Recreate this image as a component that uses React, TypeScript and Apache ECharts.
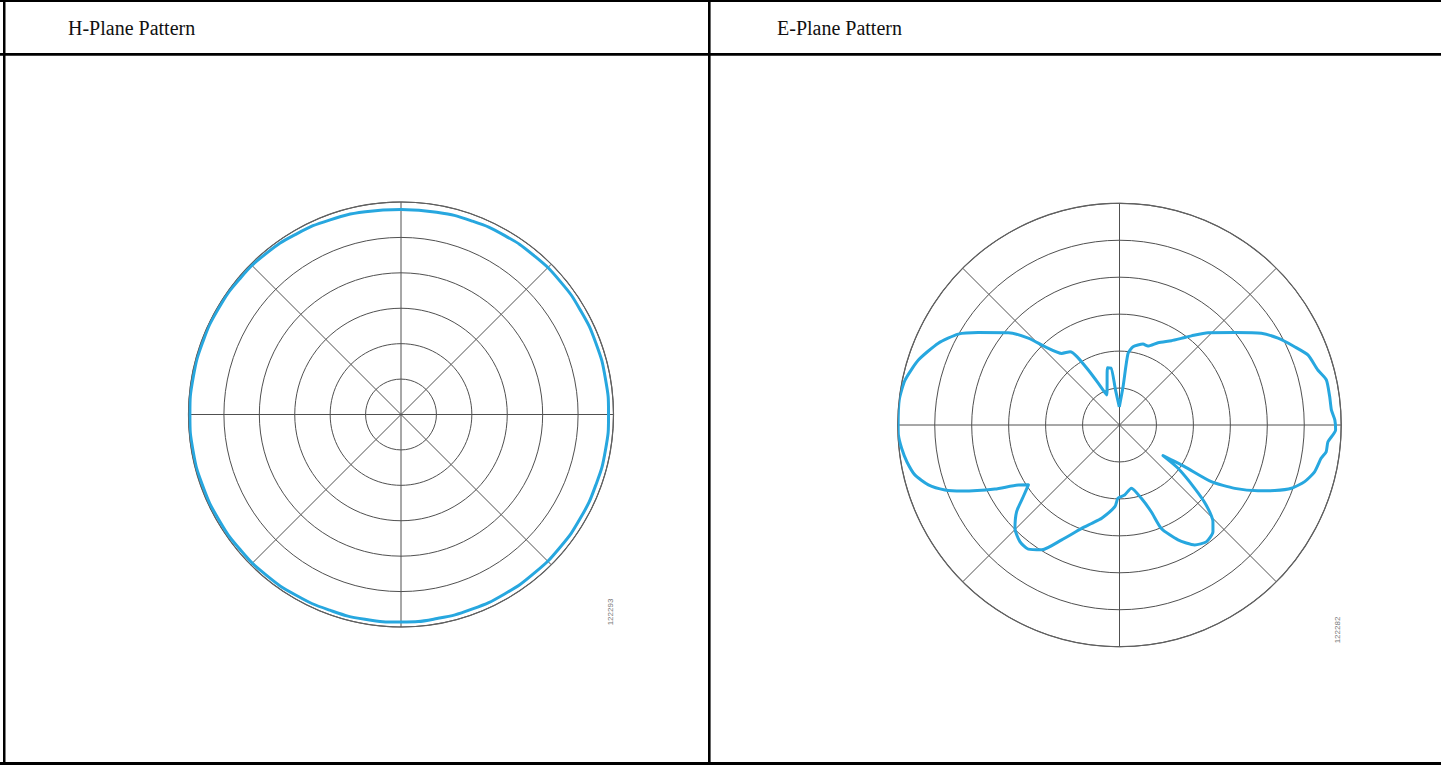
import React, { useEffect, useRef } from "react";
import * as echarts from "echarts";

// Panel titles
const PANEL_TITLES = ["H-Plane Pattern", "E-Plane Pattern"];
const FIGURE_IDS = ["122293", "122282"];

// Radius rings (relative units, outer ring = 6)
const RING_MAX = 6;
const RING_STEP = 1;
const SPOKE_STEP = 45;

// H-Plane pattern (angle in degrees clockwise from top, radius in ring units)
const H_ANGLES = [0, 10, 20, 30, 40, 50, 60, 70, 80, 90, 100, 110, 120, 130, 140, 150, 160, 170, 180, 190, 200, 210, 220, 230, 240, 250, 260, 270, 280, 290, 300, 310, 320, 330, 340, 350, 360];
const H_VALUES = [5.79, 5.8, 5.82, 5.84, 5.85, 5.86, 5.86, 5.86, 5.86, 5.86, 5.86, 5.85, 5.85, 5.85, 5.85, 5.85, 5.85, 5.85, 5.86, 5.87, 5.88, 5.9, 5.92, 5.93, 5.94, 5.95, 5.96, 5.96, 5.96, 5.96, 5.96, 5.95, 5.93, 5.89, 5.85, 5.81, 5.79];

// E-Plane pattern
const E_ANGLES = [359.4, 5.3, 6.8, 9.8, 16.2, 19.8, 25.1, 31.6, 35.5, 38.9, 43.8, 51.3, 57.1, 61.3, 65.9, 69.6, 74.5, 77.7, 82.3, 86.0, 88.7, 91.3, 94.6, 97.4, 99.4, 103.5, 107.0, 110.2, 112.9, 115.4, 118.8, 121.7, 122.6, 125.2, 126.5, 130.1, 132.7, 136.0, 138.8, 143.4, 147.9, 153.0, 158.0, 159.9, 163.4, 169.4, 175.8, 181.2, 183.2, 190.8, 195.8, 200.1, 206.7, 211.9, 216.3, 220.5, 225.3, 229.9, 233.3, 236.7, 239.3, 242.8, 247.3, 249.6, 252.6, 256.3, 260.2, 263.9, 267.4, 270, 276.5, 281.8, 287.9, 294.3, 299.4, 303.2, 309.7, 313.6, 316.4, 321.1, 326.0, 328.1, 330.4, 333.0, 336.9, 348.1, 351.5, 353.5, 359.4];
const E_VALUES = [0.49, 1.03, 1.95, 2.15, 2.28, 2.27, 2.46, 2.68, 2.88, 3.1, 3.46, 4.0, 4.57, 4.89, 5.19, 5.44, 5.57, 5.73, 5.74, 5.75, 5.83, 5.85, 5.66, 5.64, 5.53, 5.43, 5.24, 4.96, 4.56, 4.15, 3.56, 2.92, 2.09, 1.44, 1.97, 2.66, 3.19, 3.64, 3.84, 3.94, 3.83, 3.49, 3.02, 2.5, 2.07, 1.74, 1.9, 1.98, 2.21, 2.57, 2.77, 2.98, 3.48, 3.98, 4.17, 4.15, 3.98, 3.64, 3.25, 2.95, 3.18, 3.79, 4.63, 5.04, 5.42, 5.7, 5.84, 5.93, 5.99, 5.99, 6.0, 5.93, 5.72, 5.38, 5.01, 4.57, 3.91, 3.41, 2.93, 2.49, 2.39, 2.18, 1.71, 1.27, 0.88, 1.58, 1.56, 0.95, 0.49];

const GRID_COLOR = "#505050";
const CURVE_COLOR = "#27a7df";

function buildOption() {
  const hData = H_ANGLES.map((a, i) => [H_VALUES[i], a]);
  const eData = E_ANGLES.map((a, i) => [E_VALUES[i], a]);

  const polars = [
    { center: [401, 414.5], radius: 212.5 },
    { center: [1119.5, 425], radius: 221.7 },
  ];

  const angleAxis = polars.map((_, i) => ({
    polarIndex: i,
    type: "value",
    min: 0,
    max: 360,
    interval: SPOKE_STEP,
    startAngle: 90,
    clockwise: true,
    axisLine: { show: true, lineStyle: { color: "#606060", width: 1.2 } },
    axisTick: { show: false },
    axisLabel: { show: false },
    splitLine: { show: true, lineStyle: { color: GRID_COLOR, width: 1 } },
  }));

  const radiusAxis = polars.map((_, i) => ({
    polarIndex: i,
    type: "value",
    min: 0,
    max: RING_MAX,
    interval: RING_STEP,
    axisLine: { show: false },
    axisTick: { show: false },
    axisLabel: { show: false },
    splitLine: { show: true, lineStyle: { color: GRID_COLOR, width: 1 } },
  }));

  const border = (x: number, y: number, w: number, h: number) => ({
    type: "rect",
    shape: { x, y, width: w, height: h },
    style: { fill: "#000" },
    silent: true,
    z: 10,
  });

  const titleText = (text: string, x: number) => ({
    type: "text",
    x,
    y: 28,
    style: {
      text,
      fill: "#111",
      font: '20px "Liberation Serif", "Times New Roman", serif',
      fontSize: 20,
      fontFamily: '"Liberation Serif", serif',
      verticalAlign: "middle",
      align: "left",
    },
    z: 10,
  });

  const idText = (text: string, x: number, y: number) => ({
    type: "text",
    x,
    y,
    rotation: Math.PI / 2,
    style: {
      text,
      fill: "#777",
      fontSize: 8,
      fontFamily: "Arial, 'Liberation Sans', sans-serif",
      align: "center",
      verticalAlign: "middle",
    },
    z: 10,
  });

  return {
    animation: false,
    backgroundColor: "#ffffff",
    polar: polars,
    angleAxis,
    radiusAxis,
    series: [
      {
        type: "line",
        coordinateSystem: "polar",
        polarIndex: 0,
        data: hData,
        showSymbol: false,
        smooth: true,
        lineStyle: { color: CURVE_COLOR, width: 3 },
        z: 5,
      },
      {
        type: "line",
        coordinateSystem: "polar",
        polarIndex: 1,
        data: eData,
        showSymbol: false,
        smooth: 0.2,
        lineStyle: { color: CURVE_COLOR, width: 3, join: "round" },
        z: 5,
      },
    ],
    graphic: [
      border(0, 0, 1441, 2),
      border(3, 0, 2.5, 765),
      border(0, 53, 1441, 2.8),
      border(708, 0, 2.6, 765),
      border(0, 762, 1441, 3),
      titleText(PANEL_TITLES[0], 68),
      titleText(PANEL_TITLES[1], 777),
      idText(FIGURE_IDS[0], 610, 612),
      idText(FIGURE_IDS[1], 1337, 630),
    ],
  };
}

export default function App() {
  const ref = useRef<HTMLDivElement>(null);
  useEffect(() => {
    if (!ref.current) return;
    const chart = echarts.init(ref.current, null, { renderer: "svg" });
    chart.setOption(buildOption() as any);
    return () => {
      chart.dispose();
    };
  }, []);
  return (
    <div
      ref={ref}
      style={{ position: "absolute", left: 0, top: 0, width: 1441, height: 765, background: "#fff" }}
    />
  );
}
